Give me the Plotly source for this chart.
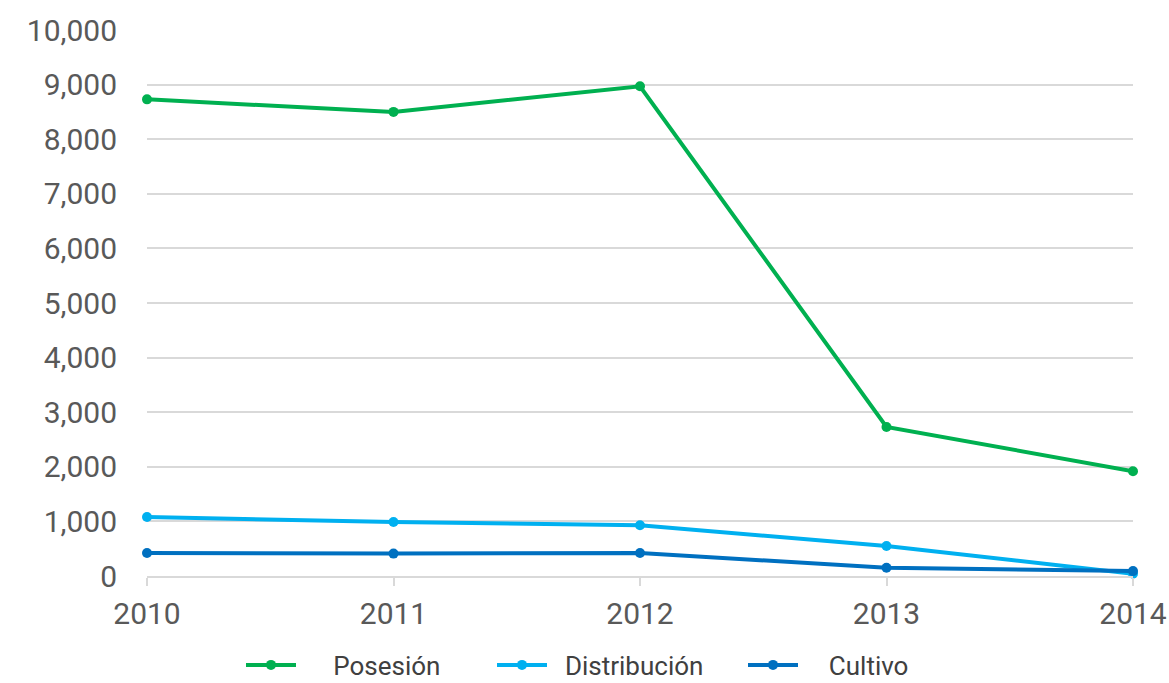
import plotly.graph_objects as go

years = [2010, 2011, 2012, 2013, 2014]
posesion = [8730, 8500, 8970, 2730, 1920]
distribucion = [1080, 990, 930, 550, 40]
cultivo = [420, 410, 420, 150, 90]

NB = "\u00a0"
series = [
    (NB * 5 + "Posesión", posesion, "#00B050"),
    (NB * 2 + "Distribución", distribucion, "#00B0F0"),
    (NB * 4 + "Cultivo", cultivo, "#0070C0"),
]

fig = go.Figure()
for name, vals, color in series:
    fig.add_trace(go.Scatter(
        x=years, y=vals, name=name, mode="lines+markers",
        line=dict(color=color, width=4),
        marker=dict(color=color, size=10),
        cliponaxis=False,
    ))

W, H = 1169, 683
fig.update_layout(
    width=W, height=H,
    margin=dict(l=147, r=36, t=30, b=107, autoexpand=False),
    paper_bgcolor="white", plot_bgcolor="white",
    font=dict(family="Roboto, sans-serif", size=30, color="#595959"),
    showlegend=True,
    legend=dict(orientation="h", xref="container", x=241 / W, xanchor="left",
                yref="paper", y=-0.163, yanchor="middle",
                font=dict(size=26, color="#404040"), entrywidth=186,
                entrywidthmode="pixels", itemwidth=50),
    xaxis=dict(
        range=[2010, 2014], tickvals=years, ticktext=[str(y) for y in years],
        showgrid=False, zeroline=False, automargin=False,
        showline=True, linecolor="#d9d9d9", linewidth=2,
        ticks="outside", ticklen=8, tickcolor="#d9d9d9", tickwidth=2,
        ticklabelstandoff=2,
        tickfont=dict(size=30, color="#595959"),
    ),
    yaxis=dict(
        range=[0, 10000], dtick=1000, tickformat=",d", automargin=False,
        showgrid=True, gridcolor="#d9d9d9", gridwidth=1.5,
        zeroline=False, showline=False, ticks="", ticklen=0,
        ticklabelstandoff=29,
        tickfont=dict(size=30, color="#595959"),
    ),
)

fig.write_html(
    "out.html",
    config={"displayModeBar": False},
    post_script="document.body.style.margin='0';document.body.style.overflow='hidden';",
)
